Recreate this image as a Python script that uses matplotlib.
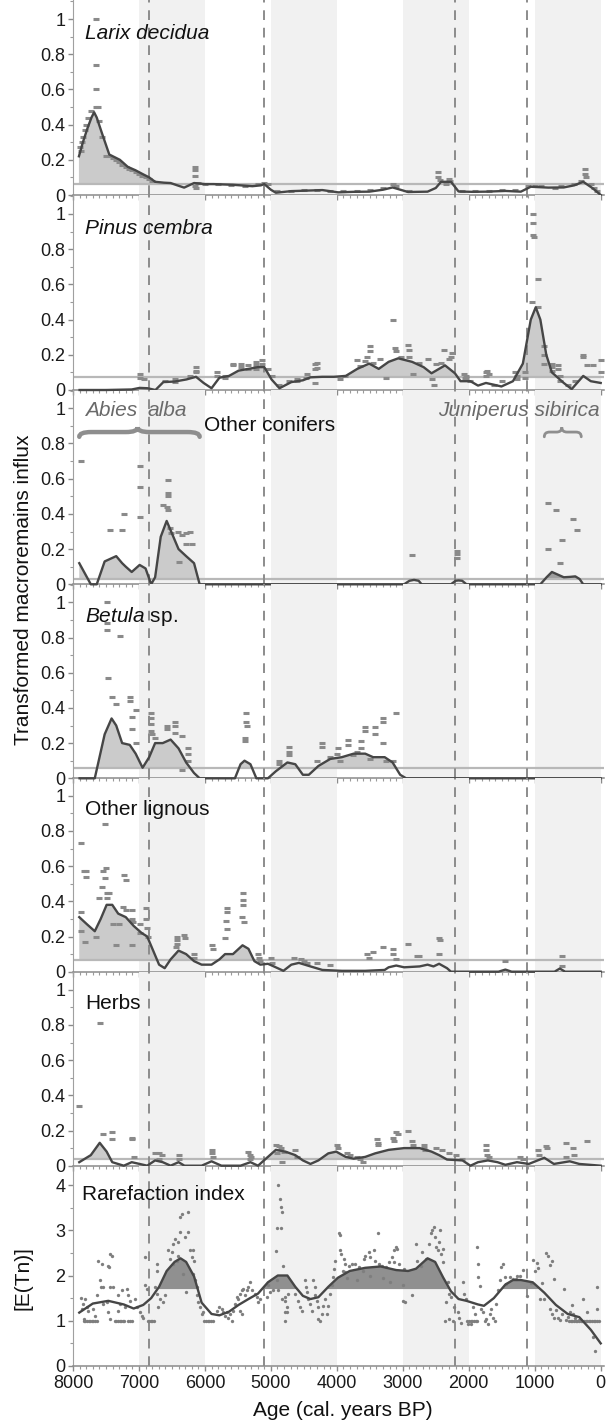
import matplotlib
matplotlib.use('Agg')
import matplotlib.pyplot as plt
import numpy as np
from matplotlib.path import Path
from matplotlib.patches import PathPatch
from matplotlib.ticker import MultipleLocator, FixedLocator, FuncFormatter

plt.rcParams['font.family'] = ['Liberation Sans', 'DejaVu Sans']
plt.rcParams['mathtext.fontset'] = 'custom'
plt.rcParams['mathtext.rm'] = 'Liberation Sans'
plt.rcParams['mathtext.it'] = 'Liberation Sans:italic'

# ---------------- data ----------------
titles = ['Larix decidua', 'Pinus cembra', None, r'$\mathit{Betula}$ sp.', 'Other lignous', 'Herbs', 'Rarefaction index']
title_italic = [True, True, False, False, False, False, False]
thresholds = [0.062, 0.076, 0.03, 0.058, 0.065, 0.04, 1.7]
event_ages = [6850, 5105, 2212, 1110]
bands = [(7000, 6000), (5000, 4000), (3000, 2000), (1000, 0)]
x_ticks = [8000, 7000, 6000, 5000, 4000, 3000, 2000, 1000, 0]

ages1 = [7910, 7850, 7780, 7720, 7680, 7640, 7560, 7450, 7290, 7170, 7050, 6950, 6845, 6755, 6620, 6520,
         6420, 6315, 6165, 6000, 5870, 5575, 5280, 5150, 5100, 5000, 4925, 4690, 4450, 4220, 3980, 3750,
         3510, 3300, 3155, 2920, 2625, 2500, 2420, 2270, 2155, 1950, 1740, 1445, 1210, 1060, 795, 560,
         400, 265, 120, 0]
vals1 = [0.22, 0.30, 0.38, 0.44, 0.47, 0.44, 0.35, 0.23, 0.20, 0.16, 0.14, 0.12, 0.10, 0.075, 0.07, 0.068,
         0.055, 0.042, 0.068, 0.062, 0.062, 0.058, 0.05, 0.055, 0.062, 0.03, 0.013, 0.022, 0.025, 0.028, 0.015, 0.018,
         0.019, 0.03, 0.043, 0.017, 0.019, 0.04, 0.075, 0.075, 0.02, 0.018, 0.019, 0.023, 0.019, 0.047, 0.042, 0.043,
         0.055, 0.075, 0.038, 0.0]

ages2 = [7900, 7500, 7110, 6990, 6870, 6750, 6630, 6460, 6280, 6135, 6020, 5900, 5780, 5635, 5490, 5340,
         5195, 5100, 4990, 4870, 4690, 4515, 4400, 4220, 4045, 3865, 3690, 3510, 3365, 3215, 3070, 2860,
         2685, 2565, 2360, 2210, 2125, 1975, 1860, 1740, 1620, 1505, 1330, 1180, 1060, 985, 915, 825,
         740, 560, 440, 265, 150, 0]
vals2 = [0.0, 0.0, 0.003, 0.012, 0.01, 0.0, 0.045, 0.048, 0.06, 0.075, 0.04, 0.01, 0.07, 0.08, 0.11, 0.12,
         0.13, 0.13, 0.06, 0.01, 0.045, 0.055, 0.072, 0.075, 0.075, 0.08, 0.12, 0.15, 0.12, 0.16, 0.18, 0.16,
         0.13, 0.095, 0.14, 0.095, 0.05, 0.05, 0.025, 0.04, 0.03, 0.02, 0.05, 0.15, 0.40, 0.47, 0.40, 0.20,
         0.10, 0.04, 0.005, 0.08, 0.05, 0.04]

ages3 = [7905, 7730, 7640, 7520, 7345, 7255, 7200, 7110, 6990, 6900, 6815, 6755, 6670, 6580, 6490, 6400,
         6285, 6165, 6080, 2980, 2900, 2830, 2760, 2715, 2270, 2200, 2155, 2100, 2035, 915, 820, 740,
         650, 560, 470, 385, 320, 265, 0]
vals3 = [0.12, 0.0, 0.0, 0.13, 0.16, 0.12, 0.10, 0.07, 0.11, 0.09, 0.0, 0.04, 0.27, 0.36, 0.28, 0.20,
         0.16, 0.12, 0.0, 0.0, 0.02, 0.025, 0.02, 0.0, 0.0, 0.02, 0.022, 0.02, 0.0, 0.0, 0.04, 0.07,
         0.055, 0.04, 0.042, 0.045, 0.03, 0.0, 0.0]

ages4 = [7900, 7670, 7520, 7415, 7345, 7255, 7140, 7050, 6945, 6845, 6755, 6640, 6520, 6400, 6285, 6165,
         6080, 5545, 5460, 5400, 5310, 5220, 5045, 4925, 4750, 4630, 4515, 4425, 4280, 4100, 3925, 3745,
         3570, 3450, 3275, 3155, 3040, 2950, 0]
vals4 = [0.0, 0.0, 0.25, 0.34, 0.30, 0.20, 0.19, 0.14, 0.06, 0.12, 0.20, 0.20, 0.22, 0.17, 0.09, 0.03,
         0.0, 0.0, 0.08, 0.10, 0.08, 0.0, 0.0, 0.04, 0.09, 0.08, 0.02, 0.02, 0.07, 0.11, 0.12, 0.14,
         0.14, 0.12, 0.12, 0.09, 0.02, 0.0, 0.0]

ages5 = [7905, 7790, 7670, 7580, 7490, 7405, 7315, 7200, 7080, 6960, 6875, 6785, 6695, 6610, 6520, 6400,
         6285, 6165, 6050, 5900, 5780, 5695, 5575, 5430, 5340, 5250, 5160, 5045, 4955, 4810, 4690, 4575,
         4400, 4220, 3925, 3570, 3275, 3215, 3100, 2980, 2745, 2625, 2535, 2450, 2330, 2270, 1550, 1445,
         1350, 700, 620, 540, 0]
vals5 = [0.31, 0.27, 0.23, 0.30, 0.38, 0.38, 0.33, 0.31, 0.26, 0.22, 0.20, 0.12, 0.04, 0.02, 0.07, 0.12,
         0.10, 0.06, 0.04, 0.04, 0.07, 0.10, 0.10, 0.15, 0.13, 0.06, 0.04, 0.045, 0.03, 0.005, 0.04, 0.05,
         0.03, 0.01, 0.005, 0.005, 0.01, 0.025, 0.035, 0.025, 0.03, 0.04, 0.03, 0.045, 0.02, 0.0, 0.0, 0.012,
         0.0, 0.0, 0.018, 0.0, 0.0]

ages6 = [7905, 7730, 7595, 7490, 7405, 7230, 7110, 6990, 6875, 6755, 6640, 6520, 6400, 6310, 6050, 5900,
         5750, 5460, 5310, 5195, 5075, 4925, 4780, 4630, 4515, 4400, 4280, 4130, 4010, 3865, 3745, 3570,
         3420, 3215, 2980, 2745, 2565, 2450, 2330, 2095, 1975, 1860, 1710, 1565, 1445, 1270, 1090, 855,
         710, 470, 325, 0]
vals6 = [0.02, 0.06, 0.13, 0.08, 0.02, 0.0, 0.02, 0.01, 0.0, 0.03, 0.02, 0.0, 0.02, 0.0, 0.0, 0.025,
         0.0, 0.0, 0.02, 0.0, 0.04, 0.09, 0.08, 0.06, 0.03, 0.01, 0.03, 0.07, 0.08, 0.05, 0.04, 0.05,
         0.07, 0.09, 0.10, 0.10, 0.08, 0.06, 0.035, 0.03, 0.0, 0.02, 0.03, 0.02, 0.005, 0.02, 0.01, 0.045,
         0.01, 0.025, 0.01, 0.0]

ages7 = [7905, 7700, 7465, 7230, 7080, 6935, 6815, 6695, 6580, 6460, 6370, 6285, 6165, 6050, 5900, 5780,
         5635, 5490, 5340, 5195, 5045, 4895, 4750, 4630, 4515, 4400, 4280, 4130, 3985, 3805, 3570, 3335,
         3100, 2920, 2800, 2625, 2510, 2390, 2270, 2155, 2035, 1860, 1770, 1620, 1445, 1330, 1210, 1030,
         855, 680, 500, 325, 150, 0]
vals7 = [1.18, 1.38, 1.44, 1.36, 1.27, 1.35, 1.5, 1.75, 2.1, 2.3, 2.38, 2.3, 1.98, 1.4, 1.15, 1.12,
         1.2, 1.35, 1.48, 1.6, 1.85, 2.0, 2.0, 1.75, 1.55, 1.48, 1.52, 1.75, 1.95, 2.1, 2.17, 2.2,
         2.12, 2.1, 2.15, 2.38, 2.3, 1.96, 1.65, 1.48, 1.44, 1.36, 1.33, 1.5, 1.8, 1.9, 1.9, 1.85,
         1.62, 1.35, 1.15, 1.08, 0.8, 0.5]

p1_points = [(7652, 1.0), (7652, 0.74), (7652, 0.6), (7652, 0.5), (7625, 0.5),
             (7897, 0.27), (7880, 0.25), (7860, 0.30), (7845, 0.33), (7820, 0.37), (7800, 0.40), (7770, 0.44), (7720, 0.48),
             (7600, 0.42), (7560, 0.33), (7500, 0.22), (7450, 0.22), (7400, 0.21), (7350, 0.20), (7300, 0.19), (7250, 0.17),
             (7200, 0.16), (7150, 0.15), (7100, 0.14), (7050, 0.13), (7000, 0.12), (6950, 0.11), (6900, 0.10), (6850, 0.09),
             (6800, 0.08), (6152, 0.16), (6152, 0.14), (6152, 0.11), (6152, 0.05), (6130, 0.04),
             (6100, 0.07), (6000, 0.06), (5800, 0.06), (5600, 0.055), (5400, 0.05), (5200, 0.06), (5100, 0.07), (5050, 0.06),
             (4900, 0.02), (4700, 0.025), (4500, 0.03), (4300, 0.03), (4100, 0.02), (3900, 0.02), (3700, 0.025), (3500, 0.03),
             (3300, 0.04), (3150, 0.06), (3100, 0.05), (2900, 0.02),
             (2460, 0.13), (2460, 0.10), (2440, 0.085), (2300, 0.09), (2280, 0.08), (2350, 0.06),
             (2100, 0.02), (1900, 0.02), (1700, 0.025), (1500, 0.03), (1300, 0.03), (1100, 0.05), (1000, 0.05), (900, 0.05),
             (700, 0.04), (600, 0.05), (400, 0.06), (300, 0.08), (236, 0.15), (236, 0.12), (230, 0.10), (150, 0.06),
             (100, 0.04), (50, 0.02)]

p2_points = [(6990, 0.09), (6990, 0.07), (6930, 0.06), (6610, 0.05), (6460, 0.06), (6460, 0.045), (6135, 0.13),
             (6135, 0.11), (6135, 0.10), (6220, 0.08), (5810, 0.10), (5810, 0.08), (5690, 0.08), (5690, 0.07),
             (5575, 0.15), (5575, 0.14), (5455, 0.15), (5455, 0.13), (5340, 0.14), (5340, 0.12), (5220, 0.16),
             (5220, 0.14), (5220, 0.12), (5130, 0.17), (5130, 0.15), (5045, 0.12), (4985, 0.08), (4870, 0.03),
             (4720, 0.05), (4600, 0.06), (4335, 0.15), (4335, 0.12), (4335, 0.04), (4300, 0.155), (4300, 0.127),
             (3150, 0.40), (3500, 0.25), (3500, 0.22), (3550, 0.19), (3575, 0.165), (3125, 0.24), (3100, 0.22),
             (2925, 0.255), (2900, 0.23), (2900, 0.19), (2625, 0.175), (2375, 0.227), (2300, 0.174), (2275, 0.19),
             (2250, 0.21), (2500, 0.146), (2550, 0.06), (2525, 0.03), (3250, 0.07), (2850, 0.09), (3650, 0.136),
             (3350, 0.174), (3700, 0.17), (3450, 0.155), (3025, 0.19), (2750, 0.155), (2425, 0.155), (4450, 0.09),
             (4475, 0.07), (4600, 0.05), (3950, 0.06), (3875, 0.08), (1725, 0.108), (1700, 0.09), (2075, 0.09),
             (2050, 0.07), (1975, 0.05), (1500, 0.05), (1300, 0.10), (1625, 0.03),
             (1030, 1.0), (1030, 0.95), (1030, 0.88), (1010, 0.87), (945, 0.63), (1045, 0.50), (945, 0.47),
             (855, 0.25), (855, 0.20), (855, 0.15), (740, 0.15), (740, 0.13), (740, 0.11), (650, 0.14), (650, 0.12),
             (620, 0.08), (620, 0.05), (265, 0.20), (265, 0.19), (206, 0.14), (118, 0.14), (0, 0.17), (0, 0.10),
             (383, 0.05), (500, 0.03), (1270, 0.08), (1270, 0.06), (1150, 0.10), (1150, 0.07), (1740, 0.10),
             (1740, 0.08), (2035, 0.08), (2035, 0.07)]

p3_points = [(7875, 0.70), (7435, 0.31), (7255, 0.31), (7230, 0.40), (6990, 0.67), (6990, 0.55), (6990, 0.38),
             (6640, 0.45), (6560, 0.59), (6560, 0.52), (6560, 0.50), (6580, 0.44), (6560, 0.42), (6530, 0.32),
             (6520, 0.29), (6410, 0.30), (6350, 0.28), (6290, 0.23), (6230, 0.30), (6200, 0.23), (6400, 0.125),
             (6290, 0.29), (2860, 0.165), (2185, 0.19), (2185, 0.17), (2185, 0.15), (795, 0.46), (680, 0.42),
             (415, 0.37), (365, 0.31), (590, 0.25), (795, 0.20), (620, 0.12)]

p4_points = [(7490, 1.0), (7490, 0.88), (7490, 0.84), (7285, 0.81), (7465, 0.57), (7405, 0.46), (7345, 0.42),
             (7140, 0.46), (7140, 0.44), (7050, 0.39), (7110, 0.35), (7110, 0.28), (7040, 0.20), (6815, 0.37),
             (6815, 0.34), (6815, 0.31), (6815, 0.27), (6800, 0.25), (6755, 0.23), (6580, 0.30), (6580, 0.28),
             (6460, 0.32), (6460, 0.30), (6450, 0.26), (6340, 0.24), (6250, 0.17), (6250, 0.14), (6250, 0.10),
             (6340, 0.05), (5370, 0.37), (5370, 0.32), (5360, 0.30), (5400, 0.23), (5400, 0.21), (4720, 0.18),
             (4720, 0.15), (4720, 0.13), (4870, 0.10), (4870, 0.08), (4220, 0.20), (4220, 0.18), (3985, 0.17),
             (3835, 0.22), (3835, 0.19), (3630, 0.21), (3630, 0.17), (3570, 0.29), (3570, 0.27), (3425, 0.29),
             (3425, 0.25), (3305, 0.34), (3305, 0.32), (3100, 0.37), (3305, 0.20), (4100, 0.12), (3950, 0.10),
             (3750, 0.13), (3500, 0.11), (3250, 0.10), (3150, 0.10), (4300, 0.10), (4000, 0.14), (3700, 0.15)]

p5_points = [(7875, 0.73), (7830, 0.57), (7810, 0.57), (7800, 0.54), (7520, 0.84), (7540, 0.57), (7500, 0.59),
             (7510, 0.53), (7560, 0.48), (7480, 0.45), (7450, 0.45), (7480, 0.42), (7600, 0.42), (7230, 0.55),
             (7200, 0.52), (7240, 0.37), (7200, 0.35), (7110, 0.35), (7100, 0.30), (7090, 0.28), (6990, 0.27),
             (6990, 0.22), (6900, 0.36), (6900, 0.30), (6880, 0.25), (6870, 0.20), (7875, 0.34), (7875, 0.23),
             (7820, 0.17), (7650, 0.20), (7400, 0.27), (7300, 0.27), (7350, 0.15), (7100, 0.15), (6430, 0.20),
             (6430, 0.18), (6420, 0.16), (6440, 0.14), (6310, 0.21), (6300, 0.19), (6165, 0.10), (6160, 0.08),
             (5900, 0.15), (5880, 0.13), (5665, 0.36), (5665, 0.34), (5680, 0.29), (5660, 0.24), (5690, 0.19),
             (5430, 0.45), (5430, 0.41), (5420, 0.38), (5440, 0.31), (5410, 0.28), (5200, 0.10), (5180, 0.08),
             (5160, 0.06), (5000, 0.08), (4980, 0.05), (4650, 0.08), (4550, 0.07), (4500, 0.06), (4450, 0.05),
             (4300, 0.05), (4100, 0.04), (3540, 0.10), (3520, 0.08), (3450, 0.11), (3305, 0.14), (3155, 0.13),
             (3150, 0.10), (2920, 0.16), (3100, 0.07), (2780, 0.09), (2750, 0.09), (2450, 0.19), (2430, 0.18),
             (2450, 0.10), (1445, 0.06), (590, 0.09), (590, 0.03)]

p6_points = [(7905, 0.34), (7595, 0.81), (7550, 0.18), (7405, 0.19), (7405, 0.15), (7110, 0.16), (7110, 0.15),
             (7080, 0.05), (6750, 0.07), (6700, 0.07), (6650, 0.06), (6700, 0.04), (6400, 0.06), (6400, 0.04),
             (5900, 0.09), (5900, 0.07), (5880, 0.05), (5340, 0.08), (5320, 0.06), (5300, 0.05), (5310, 0.04),
             (4925, 0.12), (4880, 0.11), (4850, 0.10), (4800, 0.08), (4900, 0.07), (4830, 0.02), (4630, 0.09),
             (4600, 0.05), (4000, 0.12), (3980, 0.10), (3850, 0.07), (3800, 0.06), (3700, 0.05), (3650, 0.04),
             (3600, 0.02), (3390, 0.15), (3380, 0.13), (3370, 0.12), (3150, 0.16), (3130, 0.14), (3100, 0.19),
             (3080, 0.18), (2920, 0.20), (2860, 0.14), (2850, 0.12), (2685, 0.12), (2680, 0.10), (2660, 0.09),
             (2500, 0.10), (2400, 0.09), (2300, 0.07), (2200, 0.06), (2100, 0.04), (1740, 0.12), (1740, 0.09),
             (1720, 0.06), (1700, 0.05), (1230, 0.05), (1180, 0.04), (945, 0.09), (940, 0.06), (825, 0.11),
             (810, 0.10), (530, 0.13), (520, 0.05), (415, 0.10), (410, 0.06), (205, 0.14)]

p7_points = [(7884, 1.50), (7818, 1.48), (7853, 1.36), (7793, 1.31), (7869, 1.26), (7768, 1.21), (7833, 1.04),
             (7616, 2.33), (7566, 2.26), (7591, 1.89), (7576, 1.74), (7540, 1.74), (7641, 1.56), (7692, 1.26),
             (7667, 1.11), (7439, 2.48), (7414, 2.44), (7470, 2.22), (7450, 2.19), (7439, 1.74), (7389, 1.74),
             (7490, 1.41), (7465, 1.19), (7440, 1.04), (7540, 1.37), (7313, 1.56), (7263, 1.67), (7187, 1.70),
             (7162, 1.56), (7212, 1.30), (7313, 1.22), (7288, 1.37), (7136, 1.44), (7061, 1.48), (7035, 1.30),
             (6985, 1.19), (6960, 1.11), (6934, 1.07), (6909, 2.41), (6909, 1.78), (6884, 1.70), (6732, 2.26),
             (6722, 2.11), (6758, 1.74), (6732, 1.59), (6707, 1.30), (6682, 1.48), (6606, 1.56), (6631, 1.41),
             (6556, 2.56), (6530, 2.37), (6505, 2.52), (6480, 2.70), (6455, 2.81), (6404, 2.74), (6379, 3.30),
             (6354, 3.37), (6253, 3.41), (6379, 2.96), (6303, 2.85), (6253, 2.96), (6227, 2.56), (6202, 2.41),
             (6177, 2.56), (6162, 2.33), (6429, 2.33), (6480, 2.26), (6404, 2.44), (6288, 1.63), (6328, 2.04),
             (6177, 2.04), (6152, 1.89), (6126, 1.74), (6116, 1.56), (6101, 1.41), (6076, 1.30), (6025, 1.19),
             (6050, 1.15), (5823, 1.22), (5783, 1.30), (5747, 1.26), (5722, 1.19), (5697, 1.11), (5672, 1.19),
             (5646, 1.07), (5621, 1.15), (5596, 1.00), (5571, 1.22), (5545, 1.37), (5520, 1.52), (5495, 1.48),
             (5470, 1.59), (5444, 1.67), (5419, 1.70), (5394, 1.56), (5369, 1.67), (5343, 1.74), (5318, 1.85),
             (5293, 1.67), (5242, 1.59), (5217, 1.52), (5192, 1.41), (5167, 1.48), (5470, 1.22), (5444, 1.15),
             (5040, 1.78), (5015, 1.63), (5066, 1.52), (4965, 1.67), (4914, 1.89), (4889, 4.00), (4864, 3.70),
             (4854, 3.52), (4838, 3.41), (4914, 3.04), (4854, 3.04), (4924, 2.54), (4823, 2.22), (4889, 1.67),
             (4838, 1.48), (4788, 1.44), (4763, 1.19), (4788, 1.00), (4737, 1.59),
             (4789, 1.52), (4763, 1.30), (4789, 1.19), (4636, 1.59), (4585, 1.44), (4560, 1.30), (4534, 1.22),
             (4484, 1.89), (4473, 1.74), (4458, 1.63), (4433, 1.48), (4407, 1.37), (4382, 1.22), (4356, 1.89),
             (4331, 1.74), (4331, 1.56), (4305, 1.44), (4280, 1.30), (4255, 1.00), (4280, 1.04), (4229, 1.15),
             (4204, 1.33), (4178, 1.48), (4153, 1.15), (4127, 1.33), (4102, 1.59), (4076, 1.78), (4051, 1.96),
             (4036, 2.15), (4025, 2.33), (3975, 2.93), (3949, 2.89), (3949, 2.56), (3934, 2.48), (3898, 2.37),
             (3883, 2.26), (3913, 2.11), (3873, 2.07), (3822, 2.22), (3771, 2.26), (3720, 2.26), (3669, 2.19),
             (3593, 2.37), (3567, 2.44), (3516, 2.52), (3491, 2.41), (3440, 2.56), (3415, 2.33), (3364, 2.26),
             (3374, 2.94), (3313, 2.22), (3262, 2.19), (3211, 2.30), (3160, 2.41), (3135, 2.56), (3109, 2.63),
             (3084, 2.59), (3135, 2.30), (3058, 2.26), (2982, 2.15), (2997, 1.44), (2967, 1.41), (2865, 1.56),
             (3700, 1.90), (3500, 2.00), (3300, 1.95), (3600, 2.10), (3200, 1.85), (3000, 1.80), (3850, 1.95),
             (2804, 2.70), (2779, 2.33), (2728, 2.22), (2702, 2.52), (2651, 2.37), (2601, 2.70), (2575, 2.93),
             (2550, 3.00), (2524, 3.07), (2509, 2.85), (2494, 2.63), (2473, 2.56), (2448, 2.74), (2438, 3.00),
             (2422, 2.48), (2397, 2.30), (2387, 2.59), (2320, 1.85), (2295, 1.59), (2270, 1.52), (2346, 1.41),
             (2356, 1.00), (2305, 1.04), (2244, 1.00), (2219, 1.30), (2168, 1.19), (2143, 1.07), (2117, 0.96),
             (2092, 1.85), (2066, 1.59), (2041, 1.48), (2015, 0.93), (1964, 0.93), (1939, 1.30), (1913, 1.15),
             (1878, 2.63), (1862, 2.26), (1862, 1.96), (1837, 1.76), (1811, 1.26), (1786, 1.19), (1760, 1.00),
             (1735, 1.04), (1710, 0.93), (1684, 1.15), (1659, 1.26), (1633, 1.07), (1608, 1.00), (1582, 1.37),
             (1557, 1.67), (1531, 1.89), (1506, 2.19), (1481, 2.26), (1455, 1.96), (1430, 1.81), (1379, 1.96),
             (1328, 1.93), (1277, 1.93), (1226, 2.00),
             (1269, 1.99), (1180, 2.13), (1121, 1.55), (1062, 1.84), (1032, 2.35), (1003, 2.10), (973, 2.28),
             (944, 2.17), (914, 1.48), (885, 1.84), (855, 1.48), (826, 2.49), (796, 2.42), (767, 2.24),
             (737, 2.31), (708, 1.92), (767, 1.27), (737, 1.16), (708, 1.05), (678, 1.23), (649, 1.05),
             (620, 1.01), (590, 1.16), (560, 1.70), (531, 1.01), (501, 1.08), (472, 1.19), (442, 1.34),
             (413, 1.16), (383, 1.05), (324, 1.01), (59, 1.74), (59, 1.27), (118, 0.65), (88, 0.33),
             (265, 1.48), (206, 1.19)]

# dense rows of index value 1.0
p7_ones = [7840, 7815, 7790, 7765, 7740, 7715, 7690, 7665, 7640, 7370, 7345, 7320, 7295, 7270, 7245,
           7220, 7160, 7135, 7110, 6870, 6845, 6820, 6795, 6770, 6010, 5985, 5960, 5935, 5910, 5885,
           2020, 1995, 1970, 1945, 1920, 1895, 1870, 480, 455, 430, 405, 380, 355, 330, 305, 280,
           255, 230, 205, 180, 155, 130, 105, 80, 55, 30]

curves = [(ages1, vals1), (ages2, vals2), (ages3, vals3), (ages4, vals4),
          (ages5, vals5), (ages6, vals6), (ages7, vals7)]
points = [p1_points, p2_points, p3_points, p4_points, p5_points, p6_points,
          p7_points + [(a, 1.0) for a in p7_ones]]

# ---------------- layout ----------------
W, H = 610, 1425
left_px, right_px = 73, 604
zero_px = [195, 390, 584.3, 778.3, 971.7, 1165.7, 1366]
top_px = [0, 195, 390, 584.3, 778.3, 971.7, 1165.7]
unit_px = [176, 176, 176, 176, 176, 176, 45.25]

fig = plt.figure(figsize=(W / 100, H / 100), dpi=100)
fig.patch.set_facecolor('white')

curve_col = '#464646'
pt_col = '#8a8a8a'
band_col = '#f1f1f1'
fill_col = '#cbcbcb'


def brace(ax, x1, x2, xm, y, h, r, **kw):
    verts = [(x1, y - h), (x1, y), (x1 - r, y),
             (xm + r, y), (xm, y), (xm, y + h),
             (xm, y), (xm - r, y),
             (x2 + r, y), (x2, y), (x2, y - h)]
    codes = [Path.MOVETO, Path.CURVE3, Path.CURVE3,
             Path.LINETO, Path.CURVE3, Path.CURVE3,
             Path.CURVE3, Path.CURVE3,
             Path.LINETO, Path.CURVE3, Path.CURVE3]
    ax.add_patch(PathPatch(Path(verts, codes), fill=False, **kw))


axes = []
for i in range(7):
    hpx = zero_px[i] - top_px[i]
    ax = fig.add_axes([left_px / W, 1 - zero_px[i] / H, (right_px - left_px) / W, hpx / H])
    ax.set_facecolor('none')
    ax.set_xlim(8000, -50)
    ax.set_ylim(0, hpx / unit_px[i])
    ages = np.array(curves[i][0], dtype=float)
    vals = np.array(curves[i][1], dtype=float)
    thr = thresholds[i]

    for a0, a1 in bands:
        ax.axvspan(a1, a0, color=band_col, zorder=0, lw=0)
    for e in event_ages:
        ax.axvline(e, color='#8c8c8c', lw=1.4, ls=(0, (5, 4)), zorder=1.6)

    if i == 6:
        ax.fill_between(ages, vals, thr, where=vals >= thr, interpolate=True,
                        color='#909090', lw=0, zorder=1)
    elif i == 2:
        ax.fill_between(ages, vals, thr, where=(vals >= thr) & (ages > 3000), interpolate=True,
                        color=fill_col, lw=0, zorder=1)
        ax.fill_between(ages, vals, thr, where=(vals >= thr) & (ages < 1000), interpolate=True,
                        color='#9e9e9e', lw=0, zorder=1)
        ax.axhline(thr, color='#b8b8b8', lw=1.6, zorder=1.5)
    else:
        ax.fill_between(ages, vals, thr, where=vals >= thr, interpolate=True,
                        color=fill_col, lw=0, zorder=1)
        ax.axhline(thr, color='#b8b8b8', lw=1.6, zorder=1.5)

    pa = [p[0] for p in points[i]]
    pv = [p[1] for p in points[i]]
    if i == 6:
        ax.plot(pa, pv, ls='none', marker='o', ms=2.4, mfc='#7e7e7e', mec='none', zorder=3)
    else:
        ax.plot(pa, pv, ls='none', marker='_', ms=5, mew=2.2, color=pt_col, zorder=3)

    ax.plot(ages, vals, color=curve_col, lw=1.7, zorder=4, clip_on=False, solid_joinstyle='round')

    # axes styling
    for s in ['top', 'right']:
        ax.spines[s].set_visible(False)
    ax.spines['left'].set_color('#a0a0a0')
    ax.spines['bottom'].set_color('#8a8a8a')
    ax.spines['bottom'].set_linewidth(1.1)
    ax.xaxis.set_major_locator(FixedLocator(x_ticks))
    ax.xaxis.set_minor_locator(MultipleLocator(100))
    if i < 6:
        ax.yaxis.set_major_locator(FixedLocator([0, 0.2, 0.4, 0.6, 0.8, 1.0]))
        ax.yaxis.set_minor_locator(MultipleLocator(0.1))
    else:
        ax.yaxis.set_major_locator(FixedLocator([0, 1, 2, 3, 4]))
        ax.yaxis.set_minor_locator(MultipleLocator(0.5))
    ax.yaxis.set_major_formatter(FuncFormatter(lambda v, p: '%g' % v))
    ax.tick_params(axis='both', which='major', direction='out', length=3.5, width=1,
                   colors='#8a8a8a', labelcolor='#1a1a1a', labelsize=13, pad=2)
    ax.tick_params(axis='both', which='minor', direction='out', length=2.5, width=0.8, colors='#9a9a9a')
    ax.tick_params(axis='x', labelbottom=(i == 6), pad=3)

    if titles[i] is not None:
        ty = 3.78 if i == 6 else 0.92
        tx = 7870 if i == 6 else 7820
        ax.text(tx, ty, titles[i], fontsize=15, color='#111111', va='center', ha='left',
                fontstyle='italic' if title_italic[i] else 'normal', zorder=5)
    axes.append(ax)

# panel 3 annotations
ax3 = axes[2]
ax3.text(7820, 0.985, 'Abies', fontsize=15, fontstyle='italic', color='#6a6a6a', va='center', ha='left')
ax3.text(6874, 0.985, 'alba', fontsize=15, fontstyle='italic', color='#6a6a6a', va='center', ha='left')
ax3.text(6020, 0.905, 'Other conifers', fontsize=15, color='#111111', va='center', ha='left')
ax3.text(15, 0.985, 'Juniperus sibirica', fontsize=15, fontstyle='italic', color='#6a6a6a',
         va='center', ha='right')
brace(ax3, 7905, 6080, 7020, 0.865, 0.027, 180, edgecolor='#8e8e8e', lw=3.2, capstyle='round', zorder=5)
brace(ax3, 855, 295, 590, 0.865, 0.027, 80, edgecolor='#8e8e8e', lw=2.0, capstyle='round', zorder=5)

fig.text(343 / W, 1 - 1410 / H, 'Age (cal. years BP)', ha='center', va='center', fontsize=15, color='#111111')
fig.text(24 / W, 1 - 590 / H, 'Transformed macroremains influx', rotation=90, ha='center', va='center',
         fontsize=15, color='#111111')
fig.text(23 / W, 1 - 1278 / H, '[E(Tn)]', rotation=90, ha='center', va='center', fontsize=15, color='#111111')

fig.savefig('out.png', dpi=100, facecolor='white')
